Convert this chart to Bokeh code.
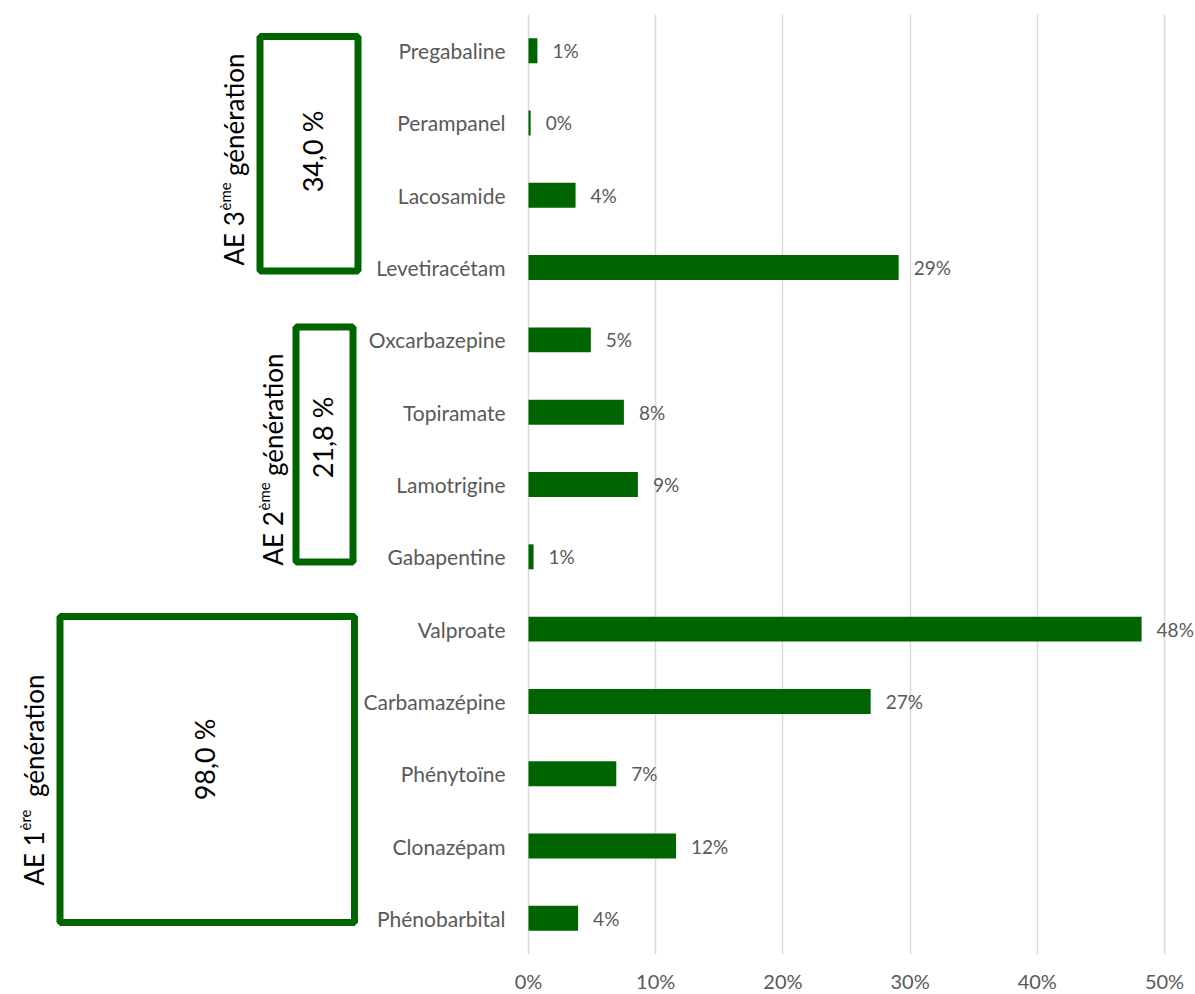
import math
from bokeh.plotting import figure
from bokeh.models import ColumnDataSource, FixedTicker, NumeralTickFormatter, Range1d
from bokeh.core.properties import value
from bokeh.embed import file_html
from bokeh.resources import INLINE

# ---------------- data (top to bottom) ----------------
drugs = ["Pregabaline", "Perampanel", "Lacosamide", "Levetiracétam",
         "Oxcarbazepine", "Topiramate", "Lamotrigine", "Gabapentine",
         "Valproate", "Carbamazépine", "Phénytoïne", "Clonazépam", "Phénobarbital"]
shares = [0.007, 0.0017, 0.037, 0.291,
          0.049, 0.075, 0.086, 0.004,
          0.482, 0.269, 0.069, 0.116, 0.039]
share_labels = ["1%", "0%", "4%", "29%", "5%", "8%", "9%", "1%",
                "48%", "27%", "7%", "12%", "4%"]

group_prefix = ["AE 3", "AE 2", "AE 1"]
group_sup = ["ème", "ème", "ère"]
group_suffix = ["génération", "génération", "génération"]
group_totals = ["34,0 %", "21,8 %", "98,0 %"]

tick_values = [0, 0.1, 0.2, 0.3, 0.4, 0.5]

# ---------------- layout (pixels) ----------------
W = 1195
FRAME_TOP = 14
FRAME_H = 940
N = len(drugs)
ZERO_PX = 528
PX_PER_UNIT = 1272.0
GREEN = "#006400"
GREY = "#595959"
FONT = "Lato"

def xd(px):
    return (px - ZERO_PX) / PX_PER_UNIT

def yd(py):
    return (N - 0.5) - (py - FRAME_TOP) * N / FRAME_H

# boxes: left, right, top, bottom (stroke centre, px)
box_px = [(259.5, 357.5, 36, 270.5), (295.5, 352.5, 326.5, 561.5), (59.5, 354, 616, 922)]
# totals centre (px)
total_px = [(312, 151), (322, 437), (204, 759)]
# group labels: baseline x, start y, superscript start y, end y
label_px = [(233, 265, 210, 53), (272, 565, 510, 353), (33, 885, 830, 674)]
SUP_RAISE = 9

p = figure(frame_width=W, frame_height=FRAME_H,
           x_range=Range1d(xd(0), xd(W)), y_range=Range1d(-0.5, N - 0.5),
           y_axis_location=None, toolbar_location=None, output_backend="svg",
           min_border_left=0, min_border_right=0, min_border_top=FRAME_TOP,
           min_border_bottom=40)
p.outline_line_color = None
p.background_fill_color = "white"
p.ygrid.visible = False
p.xgrid.ticker = FixedTicker(ticks=tick_values)
p.xgrid.grid_line_color = "#d9d9d9"
p.xgrid.grid_line_width = 1.5
ax = p.xaxis[0]
ax.ticker = FixedTicker(ticks=tick_values)
ax.formatter = NumeralTickFormatter(format="0%")
ax.axis_line_color = None
ax.major_tick_line_color = None
ax.minor_tick_line_color = None
ax.major_tick_out = 0
ax.major_tick_in = 0
ax.minor_tick_out = 0
ax.major_label_text_font = FONT
ax.major_label_text_font_size = "20px"
ax.major_label_text_color = GREY
ax.major_label_standoff = 14

ys = [N - 1 - i for i in range(N)]
src = ColumnDataSource(dict(y=ys, share=shares, lab=share_labels, drug=drugs))

p.hbar(y="y", left=0, right="share", height=0.345, source=src,
       fill_color=GREEN, line_color=None)
p.text(x="share", y="y", text="lab", source=src, x_offset=15,
       text_align="left", text_baseline="middle", text_font=value(FONT),
       text_font_size="19px", text_color=GREY)
p.text(x=0, y="y", text="drug", source=src, x_offset=-23,
       text_align="right", text_baseline="middle", text_font=value(FONT),
       text_font_size="21px", text_color=GREY)

# group boxes
p.quad(left=[xd(b[0]) for b in box_px], right=[xd(b[1]) for b in box_px],
       top=[yd(b[2]) for b in box_px], bottom=[yd(b[3]) for b in box_px],
       fill_color="white", line_color=GREEN, line_width=7)

# totals
p.text(x=[xd(t[0]) for t in total_px], y=[yd(t[1]) for t in total_px],
       text=group_totals, angle=math.pi / 2, text_align="center",
       text_baseline="middle", text_font=value(FONT), text_font_size="27px",
       text_color="black")

# group labels (with superscript)
p.text(x=[xd(l[0]) for l in label_px], y=[yd(l[1]) for l in label_px],
       text=group_prefix, angle=math.pi / 2, text_align="left",
       text_baseline="alphabetic", text_font=value(FONT), text_font_size="26px",
       text_color="black")
p.text(x=[xd(l[0] - SUP_RAISE) for l in label_px], y=[yd(l[2]) for l in label_px],
       text=group_sup, angle=math.pi / 2, text_align="left",
       text_baseline="alphabetic", text_font=value(FONT), text_font_size="15px",
       text_color="black")
p.text(x=[xd(l[0]) for l in label_px], y=[yd(l[3]) for l in label_px],
       text=group_suffix, angle=math.pi / 2, text_align="right",
       text_baseline="alphabetic", text_font=value(FONT), text_font_size="26px",
       text_color="black")

open("out.html", "w").write(file_html(p, INLINE))
